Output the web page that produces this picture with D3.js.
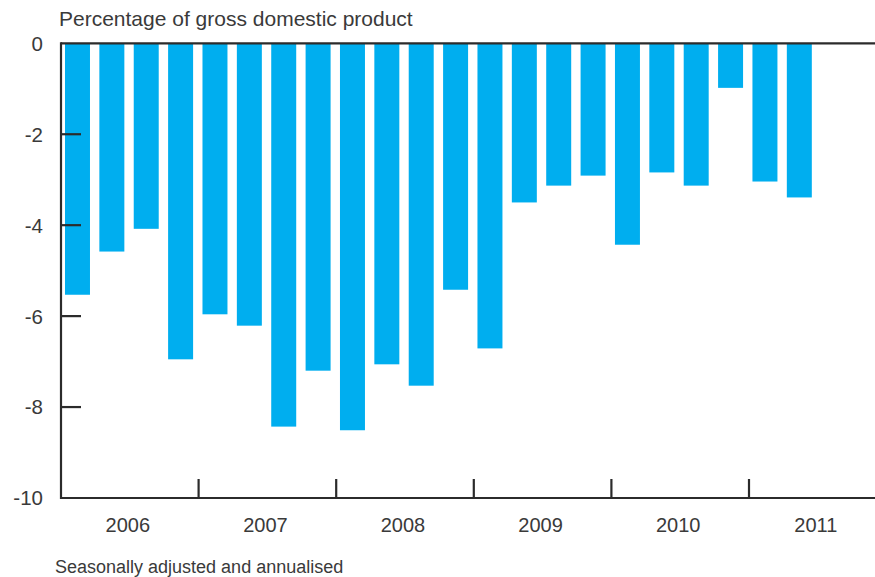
<!DOCTYPE html>
<html>
<head>
<meta charset="utf-8">
<script src="https://cdn.jsdelivr.net/npm/d3@7"></script>
<style>
  html, body { margin: 0; padding: 0; background: #fff; }
  svg { display: block; }
  text { font-family: "Liberation Sans", Arial, sans-serif; fill: #3a3a3a; }
</style>
</head>
<body>
<svg id="chart" width="875" height="577"></svg>
<script>
const quarters = ["2006Q1","2006Q2","2006Q3","2006Q4","2007Q1","2007Q2","2007Q3","2007Q4",
  "2008Q1","2008Q2","2008Q3","2008Q4","2009Q1","2009Q2","2009Q3","2009Q4",
  "2010Q1","2010Q2","2010Q3","2010Q4","2011Q1","2011Q2"];
const values = [-5.53,-4.58,-4.08,-6.95,-5.96,-6.21,-8.43,-7.20,
  -8.51,-7.06,-7.53,-5.42,-6.71,-3.50,-3.13,-2.91,
  -4.43,-2.84,-3.13,-0.98,-3.04,-3.39];
const years = ["2006","2007","2008","2009","2010","2011"];
const yTicks = [0,-2,-4,-6,-8,-10];
const yTitle = "Percentage of gross domestic product";
const note = "Seasonally adjusted and annualised";

const svg = d3.select("#chart");
const mLeft = 61, mRight = 875, mTop = 43.3, mBottom = 498;
const step = 34.4;

const y = d3.scaleLinear().domain([0, -10]).range([mTop, mBottom]);
const xq = d3.scaleLinear().domain([0, (mRight - mLeft) / step]).range([mLeft, mRight]);
const xb = d3.scaleBand().domain(quarters)
  .range([mLeft, xq(22) - 2]).paddingInner(0.273).paddingOuter(0.116);

// bars
svg.append("g").selectAll("rect").data(values).join("rect")
  .attr("x", (d, i) => xb(quarters[i]))
  .attr("width", xb.bandwidth())
  .attr("y", y(0))
  .attr("height", d => y(d) - y(0))
  .attr("fill", "#00AEEF");

const axisColor = "#2b2b2b";
// frame lines
svg.append("line").attr("x1", mLeft).attr("x2", mRight).attr("y1", y(0)).attr("y2", y(0))
  .attr("stroke", axisColor).attr("stroke-width", 2.2);
svg.append("line").attr("x1", mLeft).attr("x2", mRight).attr("y1", y(-10)).attr("y2", y(-10))
  .attr("stroke", axisColor).attr("stroke-width", 2.2);
svg.append("line").attr("x1", mLeft).attr("x2", mLeft).attr("y1", y(0) - 1.1).attr("y2", y(-10) + 1.1)
  .attr("stroke", axisColor).attr("stroke-width", 2.2);

// y ticks (inward)
svg.append("g").selectAll("line").data(yTicks.filter(t => t !== 0 && t !== -10)).join("line")
  .attr("x1", mLeft).attr("x2", mLeft + 20)
  .attr("y1", d => y(d)).attr("y2", d => y(d))
  .attr("stroke", axisColor).attr("stroke-width", 2.2);
svg.append("g").selectAll("text").data(yTicks).join("text")
  .attr("x", 43).attr("y", d => y(d)).attr("dy", "0.36em")
  .attr("text-anchor", "end").attr("font-size", 20.5)
  .text(d => d === 0 ? "0" : "-" + Math.abs(d));

// x year boundary ticks
const boundaries = d3.range(1, years.length).map(k => k * 4);
svg.append("g").selectAll("line").data(boundaries).join("line")
  .attr("x1", d => xq(d)).attr("x2", d => xq(d))
  .attr("y1", y(-10)).attr("y2", y(-10) - 19)
  .attr("stroke", axisColor).attr("stroke-width", 2.2);
svg.append("g").selectAll("text").data(years).join("text")
  .attr("x", (d, i) => xq(i * 4 + 2) - 2).attr("y", 532)
  .attr("text-anchor", "middle").attr("font-size", 20)
  .text(d => d);

svg.append("text").attr("x", 59).attr("y", 26).attr("font-size", 21).text(yTitle);
svg.append("text").attr("x", 55).attr("y", 573).attr("font-size", 18).text(note);
</script>
</body>
</html>
